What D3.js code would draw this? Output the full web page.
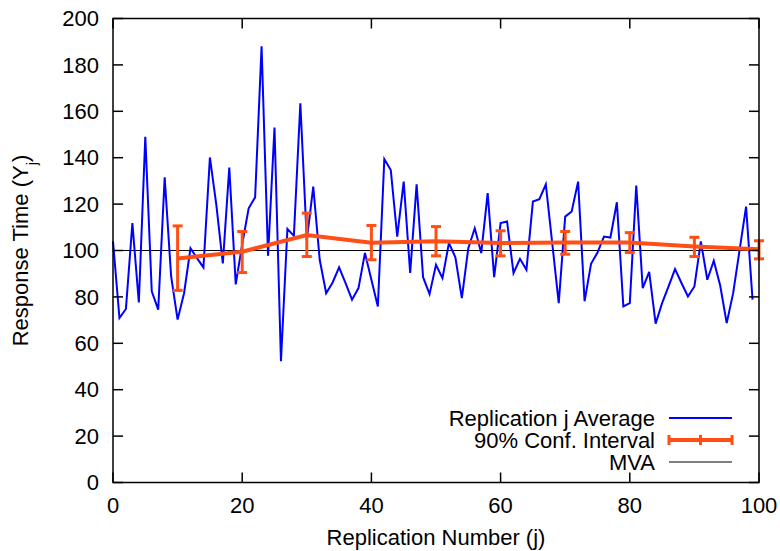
<!DOCTYPE html>
<html>
<head>
<meta charset="utf-8">
<script src="https://cdn.jsdelivr.net/npm/d3@7"></script>
<style>
  body { margin: 0; background: #fff; }
  text { font-family: "Liberation Sans", Arial, sans-serif; fill: #000; }
</style>
</head>
<body>
<svg id="chart" width="780" height="551"></svg>
<script>
// replication averages, j = 0..99
var repValues = [
  103.9, 70.9, 74.8, 111.8, 77.6, 149.0, 82.4, 74.5, 131.5, 88.8,
  70.2, 81.6, 101.0, 96.7, 92.7, 140.1, 119.6, 94.4, 135.8, 85.4,
  102.7, 118.2, 122.9, 188.0, 97.7, 153.0, 52.3, 109.3, 106.3, 163.5,
  104.5, 127.5, 96.0, 81.6, 86.2, 92.7, 85.9, 78.8, 83.8, 98.9,
  87.4, 75.9, 139.4, 134.7, 106.0, 129.7, 90.3, 128.5, 88.5, 81.2,
  93.8, 88.1, 103.2, 97.1, 79.5, 101.0, 109.6, 98.9, 124.7, 88.5,
  111.8, 112.5, 90.3, 96.4, 91.7, 121.1, 122.1, 128.5, 103.0, 77.3,
  114.6, 116.8, 129.7, 78.1, 94.3, 99.1, 106.0, 105.6, 120.8, 75.9,
  77.3, 128.0, 83.8, 90.8, 68.5, 77.3, 84.5, 92.0, 86.0, 80.2,
  84.5, 103.9, 87.4, 95.6, 84.8, 68.7, 81.6, 100.3, 118.9, 78.8
];
// 90% confidence interval every 10 replications
var ciX = [10, 20, 30, 40, 50, 60, 70, 80, 90, 100];
var ciMean = [96.6, 99.5, 106.7, 103.3, 104.0, 103.2, 103.5, 103.5, 101.7, 100.5];
var ciLow = [82.8, 90.5, 97.4, 96.0, 97.7, 97.7, 98.4, 99.1, 97.4, 96.4];
var ciHigh = [110.6, 108.2, 116.1, 110.8, 110.3, 108.5, 108.2, 107.7, 105.7, 104.2];
var mvaValue = 100;
var xTicks = [0, 20, 40, 60, 80, 100];
var yTicks = [0, 20, 40, 60, 80, 100, 120, 140, 160, 180, 200];
var legendLabels = ["Replication j Average", "90% Conf. Interval", "MVA"];

(function() {
  var svg = d3.select("#chart");
  var pl = 113, pr = 759, pt = 18.5, pb = 482.5;
  var fontSize = 22;

  var x = d3.scaleLinear().domain([0, 100]).range([pl, pr]);
  var y = d3.scaleLinear().domain([0, 200]).range([pb, pt]);

  var blue = "#0000ff";
  var orange = "#ff4f14";

  // MVA reference line
  svg.append("line")
    .attr("x1", x(0)).attr("x2", x(100))
    .attr("y1", y(mvaValue)).attr("y2", y(mvaValue))
    .attr("stroke", "#000").attr("stroke-width", 1);

  // replication averages
  var repData = repValues.map(function(v, i) { return [i, v]; });
  svg.append("path")
    .datum(repData)
    .attr("fill", "none")
    .attr("stroke", blue)
    .attr("stroke-width", 2)
    .attr("d", d3.line().x(function(d) { return x(d[0]); }).y(function(d) { return y(d[1]); }));

  // confidence interval line + error bars
  var ciData = ciX.map(function(v, i) { return {x: v, m: ciMean[i], lo: ciLow[i], hi: ciHigh[i]}; });
  svg.append("path")
    .datum(ciData)
    .attr("fill", "none")
    .attr("stroke", orange)
    .attr("stroke-width", 4)
    .attr("d", d3.line().x(function(d) { return x(d.x); }).y(function(d) { return y(d.m); }));

  var bars = svg.append("g").attr("stroke", orange).attr("stroke-width", 3);
  bars.selectAll(".ebar").data(ciData).enter().append("line")
    .attr("x1", function(d) { return x(d.x); }).attr("x2", function(d) { return x(d.x); })
    .attr("y1", function(d) { return y(d.lo); }).attr("y2", function(d) { return y(d.hi); });
  bars.selectAll(".ecapL").data(ciData).enter().append("line")
    .attr("x1", function(d) { return x(d.x) - 5; }).attr("x2", function(d) { return x(d.x) + 5; })
    .attr("y1", function(d) { return y(d.lo); }).attr("y2", function(d) { return y(d.lo); });
  bars.selectAll(".ecapH").data(ciData).enter().append("line")
    .attr("x1", function(d) { return x(d.x) - 5; }).attr("x2", function(d) { return x(d.x) + 5; })
    .attr("y1", function(d) { return y(d.hi); }).attr("y2", function(d) { return y(d.hi); });

  // frame and ticks (mirrored, inward)
  var tickLen = 10;
  var frame = svg.append("g").attr("stroke", "#000").attr("stroke-width", 1.5);
  frame.append("rect")
    .attr("x", pl).attr("y", pt).attr("width", pr - pl).attr("height", pb - pt)
    .attr("fill", "none");
  yTicks.forEach(function(t) {
    frame.append("line").attr("x1", pl).attr("x2", pl + tickLen).attr("y1", y(t)).attr("y2", y(t));
    frame.append("line").attr("x1", pr).attr("x2", pr - tickLen).attr("y1", y(t)).attr("y2", y(t));
  });
  xTicks.forEach(function(t) {
    frame.append("line").attr("x1", x(t)).attr("x2", x(t)).attr("y1", pb).attr("y2", pb - tickLen);
    frame.append("line").attr("x1", x(t)).attr("x2", x(t)).attr("y1", pt).attr("y2", pt + tickLen);
  });

  // tick labels
  svg.append("g").selectAll("text").data(yTicks).enter().append("text")
    .attr("x", pl - 14).attr("y", function(d) { return y(d); })
    .attr("dy", "0.35em")
    .attr("text-anchor", "end")
    .style("font-size", fontSize + "px")
    .text(function(d) { return d; });
  svg.append("g").selectAll("text").data(xTicks).enter().append("text")
    .attr("x", function(d) { return x(d); }).attr("y", pb + 30)
    .attr("text-anchor", "middle")
    .style("font-size", fontSize + "px")
    .text(function(d) { return d; });

  // axis titles
  svg.append("text")
    .attr("x", (pl + pr) / 2).attr("y", 545)
    .attr("text-anchor", "middle")
    .style("font-size", fontSize + "px")
    .text("Replication Number (j)");
  var yl = svg.append("text")
    .attr("transform", "translate(28," + ((pt + pb) / 2) + ") rotate(-90)")
    .attr("text-anchor", "middle")
    .style("font-size", fontSize + "px");
  yl.append("tspan").text("Response Time (Y");
  yl.append("tspan").attr("baseline-shift", "sub").style("font-size", "15px").text("j");
  yl.append("tspan").text(")");

  // legend
  var legX = 655, legY = [418, 440, 462], sx1 = 669, sx2 = 732;
  var leg = svg.append("g");
  leg.selectAll("text").data(legendLabels).enter().append("text")
    .attr("x", legX).attr("y", function(d, i) { return legY[i]; })
    .attr("dy", "0.35em")
    .attr("text-anchor", "end")
    .style("font-size", fontSize + "px")
    .text(function(d) { return d; });
  leg.append("line").attr("x1", sx1).attr("x2", sx2).attr("y1", legY[0]).attr("y2", legY[0])
    .attr("stroke", blue).attr("stroke-width", 2);
  leg.append("line").attr("x1", sx1).attr("x2", sx2).attr("y1", legY[1]).attr("y2", legY[1])
    .attr("stroke", orange).attr("stroke-width", 4);
  [sx1, (sx1 + sx2) / 2, sx2].forEach(function(px) {
    leg.append("line").attr("x1", px).attr("x2", px).attr("y1", legY[1] - 5).attr("y2", legY[1] + 5)
      .attr("stroke", orange).attr("stroke-width", 3);
  });
  leg.append("line").attr("x1", sx1).attr("x2", sx2).attr("y1", legY[2]).attr("y2", legY[2])
    .attr("stroke", "#000").attr("stroke-width", 1);
})();
</script>
</body>
</html>
